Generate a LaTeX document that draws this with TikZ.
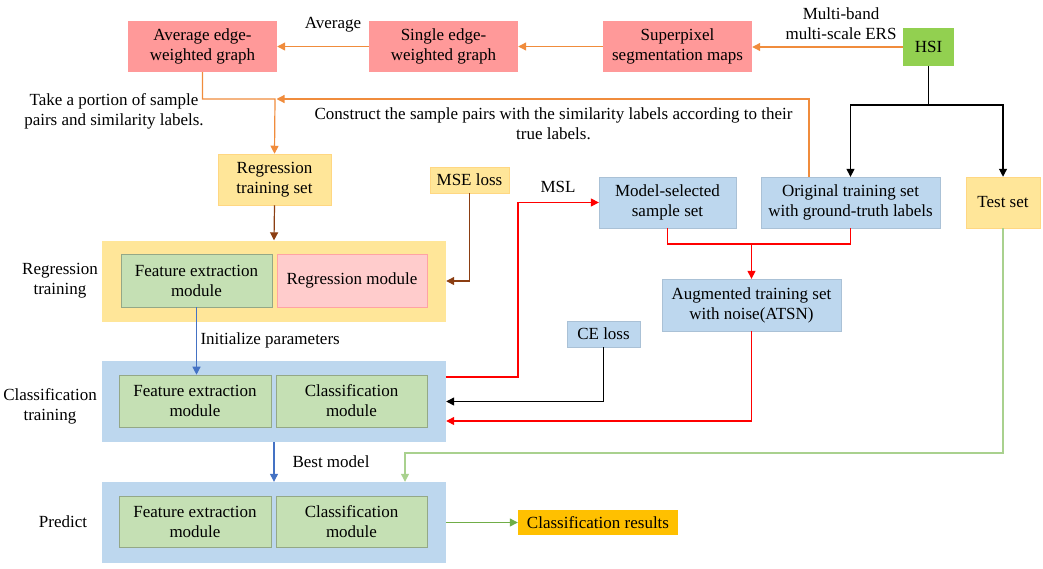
\documentclass[tikz,border=0pt]{standalone}
\usepackage{fontspec}
\setmainfont{Liberation Serif}
\usetikzlibrary{arrows.meta}

\definecolor{graphpink}{HTML}{FF9999}
\definecolor{hsigreen}{HTML}{92D050}
\definecolor{setyellow}{HTML}{FFE699}
\definecolor{setblue}{HTML}{BDD7EE}
\definecolor{modgreen}{HTML}{C5E0B4}
\definecolor{modpink}{HTML}{FFCCCC}
\definecolor{lineorange}{HTML}{F08C3C}
\definecolor{linebrown}{HTML}{8B3E12}
\definecolor{lineblue}{HTML}{4472C4}
\definecolor{linegreen}{HTML}{70AD47}
\definecolor{testgreen}{HTML}{A9D18E}
\definecolor{resultgold}{HTML}{FFC000}

\tikzset{
    flow box/.style={
      inner sep=0pt,
      align=center,
      minimum height=51pt
    },
    graph box/.style={
      flow box,
      fill=graphpink,
      minimum width=149pt
    },
    data box/.style={
      flow box,
      fill=setyellow,
      draw=setyellow!85!orange,
      line width=0.5pt
    },
    set box/.style={
      flow box,
      fill=setblue,
      draw=setblue!90!black,
      line width=0.3pt
    },
    module box/.style={
      flow box,
      fill=modgreen,
      draw=modgreen!75!black,
      line width=0.6pt,
      minimum height=52pt
    },
    stage box/.style={
      inner sep=0pt,
      minimum width=344pt,
      minimum height=81pt
    },
    flow line/.style={
      line width=1.2pt
    },
    flow arrow/.style={
      flow line,
      -{Triangle[length=8pt,width=8pt]}
    },
    side label/.style={
      align=center
    }
  }

\begin{document}
\begin{tikzpicture}[x=1pt,y=-1pt,font=\fontsize{17}{20}\selectfont]
      \useasboundingbox (0,0) rectangle (1043,568);

      % graph row
      \node[graph box] (avg) at (202.5,46.5) {Average edge-\\weighted graph};
      \node[graph box] (single) at (443.5,46.5) {Single edge-\\weighted graph};
      \node[graph box] (spx) at (677.5,46.5) {Superpixel\\segmentation maps};
      \node[flow box, fill=hsigreen, minimum width=51pt, minimum height=38pt] (hsi) at (928.5,47) {HSI};

      % data sets
      \node[data box, minimum width=113pt] (regset) at (274.5,179.5) {Regression\\training set};
      \node[data box, minimum width=79pt, minimum height=26pt] (mse) at (469.5,180) {MSE loss};
      \node[set box, minimum width=137pt] (msset) at (667.5,202.5) {Model-selected\\sample set};
      \node[set box, minimum width=179pt] (orig) at (850.5,202.5) {Original training set\\with ground-truth labels};
      \node[data box, minimum width=74pt] (test) at (1003,202.5) {Test set};
      \node[set box, minimum width=179pt, minimum height=52pt] (atsn) at (751.5,305) {Augmented training set\\with noise(ATSN)};
      \node[set box, minimum width=73pt, minimum height=26pt] (ce) at (603.5,334) {CE loss};

      % stages
      \node[stage box, fill=setyellow] (regbox) at (274,281) {};
      \node[stage box, fill=setblue] (clsbox) at (274,401.5) {};
      \node[stage box, fill=setblue] (predbox) at (274,522.5) {};

      \node[module box, minimum width=151pt, minimum height=53pt] (regfe) at (196.5,280.5) {Feature extraction\\module};
      \node[module box, fill=modpink, draw=modpink!80!red, minimum width=150pt, minimum height=53pt] (regmod) at (352,280.5) {Regression module};
      \node[module box, minimum width=152pt] (clsfe) at (195,401) {Feature extraction\\module};
      \node[module box, minimum width=151pt] (clsmod) at (351.5,401) {Classification\\module};
      \node[module box, minimum width=152pt, minimum height=51pt] (predfe) at (195,521.5) {Feature extraction\\module};
      \node[module box, minimum width=151pt, minimum height=51pt] (predmod) at (351.5,521.5) {Classification\\module};
      \node[flow box, fill=resultgold, minimum width=160pt, minimum height=25pt] (result) at (598,522.5) {Classification results};

      % labels
      \node[side label] (lavg) at (333,25) {Average};
      \node[side label] (lers) at (841,24) {Multi-band\\multi-scale ERS};
      \node[side label] (ltake) at (114,111) {Take a portion of sample\\pairs and similarity labels.};
      \node[side label] (lcons) at (553.5,124) {Construct the sample pairs with the similarity labels according to their\\true labels.};
      \node[side label] (lreg) at (60,281) {Regression\\training};
      \node[side label] (lcls) at (50,406) {Classification\\training};
      \node[side label] (lpred) at (63,522) {Predict};
      \node[side label, anchor=west] (linit) at (197,340) {Initialize parameters};
      \node[side label] (lmsl) at (558,187) {MSL};
      \node[side label] (lbest) at (331,462) {Best model};

      % bends
      \coordinate (jn) at (275,99);
      \coordinate (fork) at (928.5,105);
      \coordinate (mslc) at (518,202.5);
      \coordinate (mj) at (751.5,244);
      \coordinate (tbend) at (405,453);

      % orange
      \draw[flow arrow, lineorange] (hsi.west) -- (hsi.west -| spx.east);
      \draw[flow arrow, lineorange] (spx.west) -- (single.east);
      \draw[flow arrow, lineorange] (single.west) -- (avg.east);
      \draw[flow arrow, lineorange] (avg.south) |- (jn) -- (regset.north);
      \draw[flow arrow, lineorange] ([xshift=-41.5pt]orig.north) |- ([xshift=1.5pt]jn);

      % black
      \draw[flow line] (hsi.south) -- (fork);
      \draw[flow arrow] (fork) -| (orig.north);
      \draw[flow arrow] (fork) -| (test.north);
      \draw[flow arrow] (ce.south) |- (clsbox.east);

      % brown
      \draw[flow arrow, linebrown] (regset.south) -- (regbox.north);
      \draw[flow arrow, linebrown] (mse.south) |- (regbox.east);

      % red
      \draw[flow arrow, red] ([yshift=24.5pt]clsbox.east) -| (mslc) -- (msset.west);
      \draw[flow line, red] (msset.south) |- (mj) -| (orig.south);
      \draw[flow arrow, red] (mj) -- (atsn.north);
      \draw[flow arrow, red] (atsn.south) |- ([yshift=-19.5pt]clsbox.east);

      % blue
      \draw[flow arrow, lineblue] (regfe.south) -- (regfe.south |- clsfe.north);
      \draw[flow arrow, lineblue] (clsbox.south) -- (predbox.north);

      % green
      \draw[flow arrow, testgreen] (test.south) |- (tbend) -- (tbend |- predbox.north);
      \draw[flow arrow, linegreen] (predbox.east) -- (result.west);
    \end{tikzpicture}
\end{document}
